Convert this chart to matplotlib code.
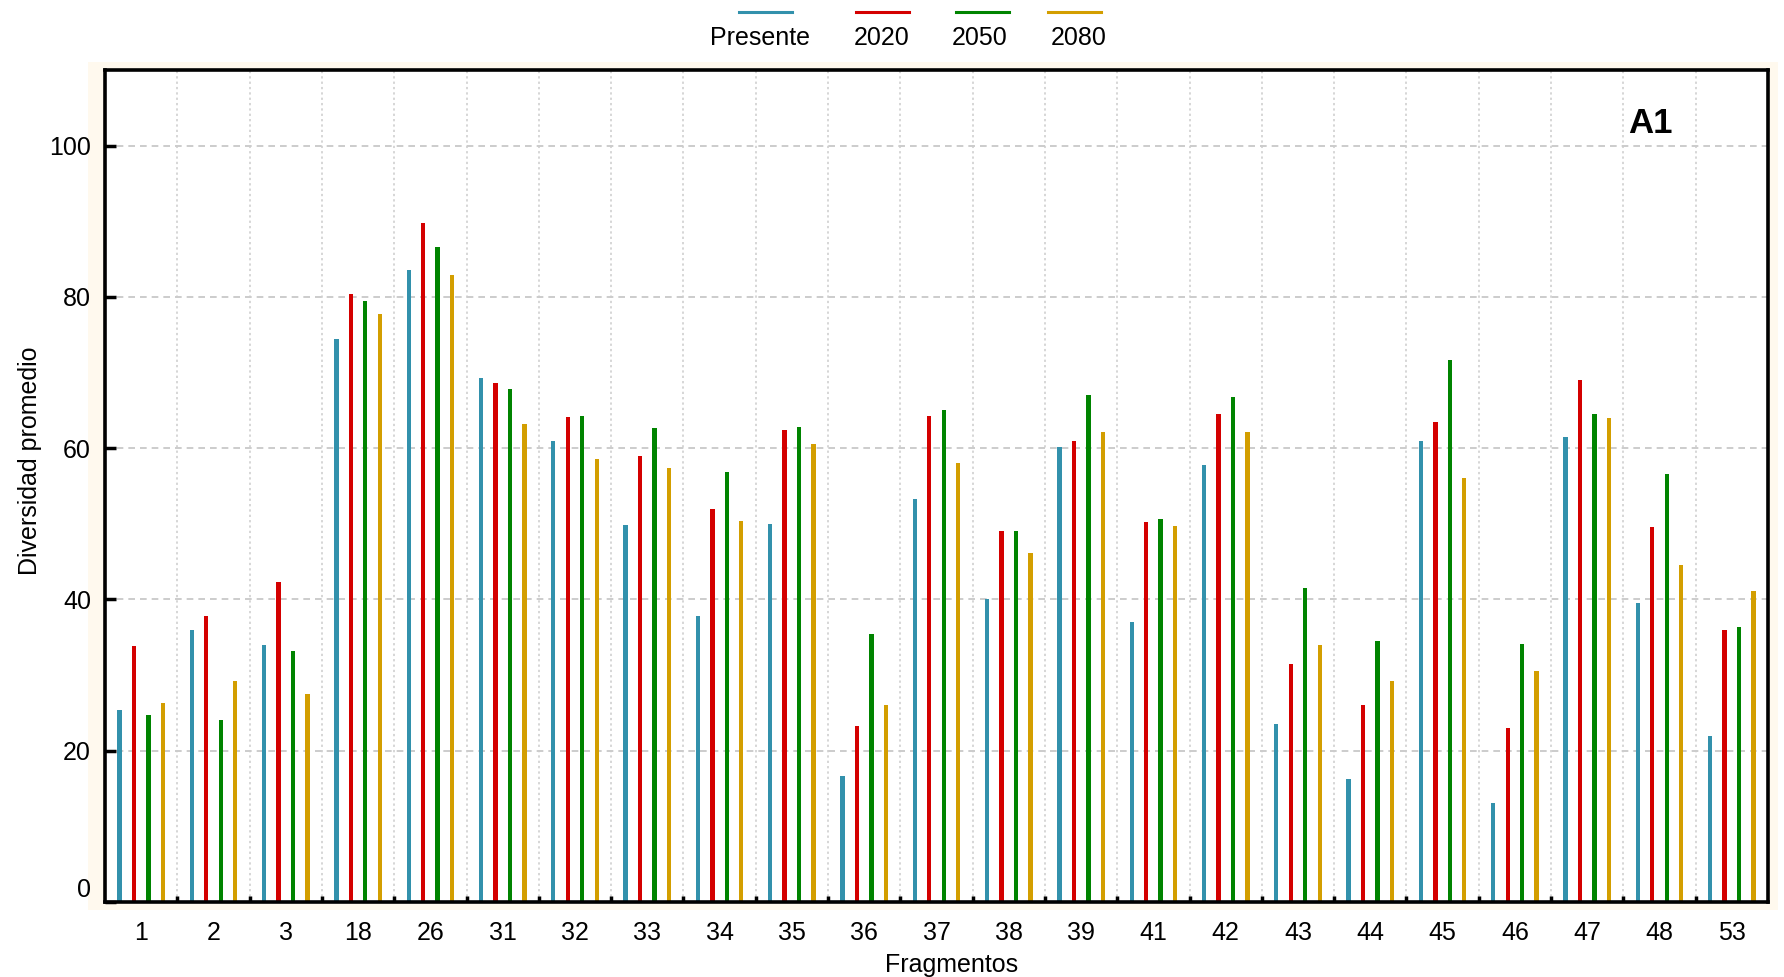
import numpy as np
import matplotlib
matplotlib.use('Agg')
import matplotlib.pyplot as plt
from matplotlib.lines import Line2D
from matplotlib.patches import Rectangle

plt.rcParams['font.family'] = ['Liberation Sans', 'DejaVu Sans']
plt.rcParams['font.size'] = 18

fragmentos = ['1', '2', '3', '18', '26', '31', '32', '33', '34', '35', '36', '37',
              '38', '39', '41', '42', '43', '44', '45', '46', '47', '48', '53']

presente = [25.4, 36.0, 34.0, 74.5, 83.5, 69.3, 61.0, 49.8, 37.8, 50.0, 16.6, 53.3,
            40.0, 60.1, 37.0, 57.8, 23.5, 16.2, 61.0, 13.1, 61.5, 39.5, 22.0]
a2020 = [33.9, 37.8, 42.3, 80.4, 89.8, 68.6, 64.1, 59.0, 51.9, 62.4, 23.3, 64.2,
         49.0, 61.0, 50.3, 64.5, 31.5, 26.0, 63.5, 23.0, 69.0, 49.6, 36.0]
a2050 = [24.7, 24.0, 33.2, 79.5, 86.6, 67.8, 64.2, 62.7, 56.8, 62.8, 35.4, 65.0,
         49.0, 67.0, 50.7, 66.8, 41.5, 34.5, 71.6, 34.1, 64.5, 56.6, 36.4]
a2080 = [26.3, 29.2, 27.5, 77.7, 82.9, 63.2, 58.6, 57.4, 50.4, 60.5, 26.0, 58.1,
         46.1, 62.1, 49.7, 62.1, 34.0, 29.2, 56.0, 30.5, 64.0, 44.5, 41.1]

series = [('Presente', presente, '#3291AC'),
          ('2020', a2020, '#D40000'),
          ('2050', a2050, '#008400'),
          ('2080', a2080, '#D39E00')]

W, H = 1784, 977
fig = plt.figure(figsize=(W/100, H/100), dpi=100)
fig.patch.set_facecolor('white')

# pale frame behind the plot area
fig.patches.append(Rectangle((88/W, 1-910/H), (1778-88)/W, (910-62)/H,
                             transform=fig.transFigure, facecolor='#FFF9EE',
                             edgecolor='none', zorder=-5))

ax = fig.add_axes([105/W, 1-902/H, (1768-105)/W, (902-70)/H])
ax.set_facecolor('white')

x = np.arange(len(fragmentos))
offsets = [-0.3, -0.1, 0.1, 0.3]
for (name, vals, col), off in zip(series, offsets):
    ax.bar(x + off, vals, width=0.06, color=col, zorder=3)

ax.set_xlim(-0.5, len(fragmentos) - 0.5)
ax.set_ylim(0, 110)

# labels in the middle of each group, ticks on the group borders
ax.set_xticks(x)
ax.set_xticklabels(fragmentos)
ax.tick_params(axis='x', which='major', length=0, pad=14)
ax.set_xticks(np.arange(len(fragmentos) - 1) + 0.5, minor=True)
ax.tick_params(axis='x', which='minor', direction='in', length=4, width=2.5)

ax.set_yticks([0, 20, 40, 60, 80, 100])
ax.tick_params(axis='y', which='major', direction='in', length=8, width=2.5, pad=10)
ax.yaxis.get_major_ticks()[0].label1.set_verticalalignment('bottom')

for yv in [20, 40, 60, 80, 100]:
    ax.axhline(yv, color='#C4C4C4', lw=1.2, ls=(0, (4, 3)), zorder=1)
for xv in np.arange(len(fragmentos) - 1) + 0.5:
    ax.axvline(xv, color='#CCCCCC', lw=1.1, ls=(0, (1.5, 2)), zorder=1)

for s in ax.spines.values():
    s.set_linewidth(2.6)
    s.set_zorder(5)

ax.set_ylabel('Diversidad promedio')
ax.yaxis.set_label_coords(-0.038, 0.53)
ax.set_xlabel('Fragmentos')
ax.xaxis.set_label_coords(0.509, -0.061)

ax.text(0.929, 0.936, 'A1', transform=ax.transAxes, ha='center', va='center',
        fontsize=25, fontweight='bold')

# legend: coloured line above each name
leg_x = [(739, 792, 760), (856, 909, 882), (956, 1009, 980), (1048, 1101, 1079)]
for (name, vals, col), (x0, x1, xt) in zip(series, leg_x):
    fig.lines.append(Line2D([x0/W, x1/W], [1-12/H, 1-12/H], color=col, lw=2.2,
                            transform=fig.transFigure))
    fig.text(xt/W, 1-38/H, name, ha='center', va='center', fontsize=18)

fig.savefig('out.png', dpi=100)
